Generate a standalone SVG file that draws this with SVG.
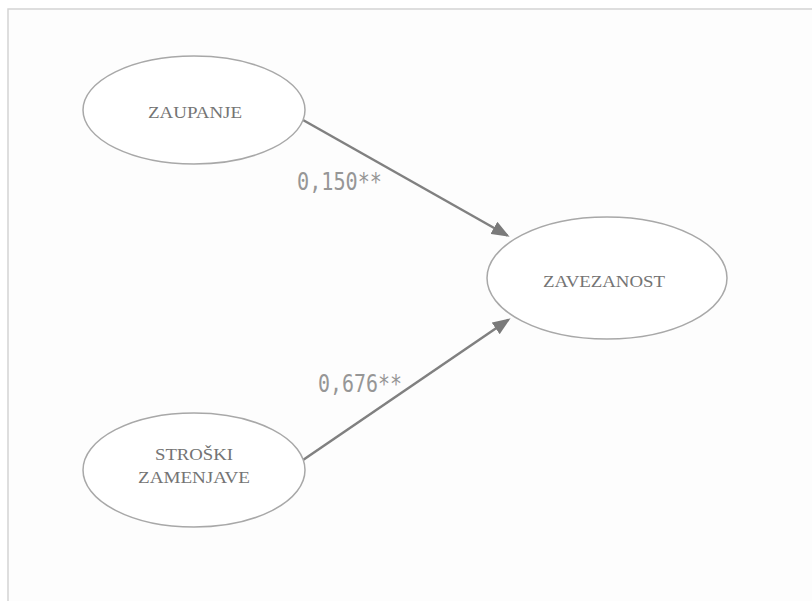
<svg xmlns="http://www.w3.org/2000/svg" width="812" height="601" viewBox="0 0 812 601">
  <style>
    .node ellipse { fill: #ffffff; stroke: #a8a8a8; stroke-width: 1.5; }
    .node text { font-family: "Liberation Serif", "DejaVu Serif", serif; font-size: 16px; fill: #747474; text-anchor: middle; }
    .edge line { stroke: #808080; stroke-width: 2.5; }
    .coef { font-family: "DejaVu Sans Mono", "Liberation Mono", monospace; font-size: 24px; fill: #969696; }
  </style>
  <defs>
    <marker id="arrow" viewBox="0 0 18 14" markerWidth="18" markerHeight="14" refX="15.5" refY="7" orient="auto" markerUnits="userSpaceOnUse">
      <path d="M0,0 L18,7 L0,14 Z" fill="#7a7a7a"/>
    </marker>
  </defs>

  <rect x="0" y="0" width="812" height="601" fill="#ffffff"/>
  <!-- frame (open to the right and bottom) -->
  <rect x="8" y="9" width="820" height="610" fill="#fdfdfd" stroke="#d4d4d4" stroke-width="1.5"/>

  <g id="connectors" class="edge">
    <line x1="303" y1="120" x2="507.4" y2="235.5" marker-end="url(#arrow)"/>
    <line x1="303" y1="460" x2="508.5" y2="319.7" marker-end="url(#arrow)"/>
    <text class="coef" x="297" y="190" textLength="85" lengthAdjust="spacingAndGlyphs">0,150**</text>
    <text class="coef" x="318" y="392" textLength="84" lengthAdjust="spacingAndGlyphs">0,676**</text>
  </g>

  <g id="zaupanje" class="node">
    <ellipse cx="194" cy="110" rx="111" ry="54"/>
    <text x="195" y="118" textLength="94" lengthAdjust="spacingAndGlyphs">ZAUPANJE</text>
  </g>

  <g id="zavezanost" class="node">
    <ellipse cx="607" cy="278" rx="120" ry="61"/>
    <text x="604" y="287" textLength="122" lengthAdjust="spacingAndGlyphs">ZAVEZANOST</text>
  </g>

  <g id="stroski-zamenjave" class="node">
    <ellipse cx="194" cy="470" rx="111" ry="57"/>
    <text x="194" y="460" textLength="78" lengthAdjust="spacingAndGlyphs">STROŠKI</text>
    <text x="194" y="483" textLength="112" lengthAdjust="spacingAndGlyphs">ZAMENJAVE</text>
  </g>
</svg>
